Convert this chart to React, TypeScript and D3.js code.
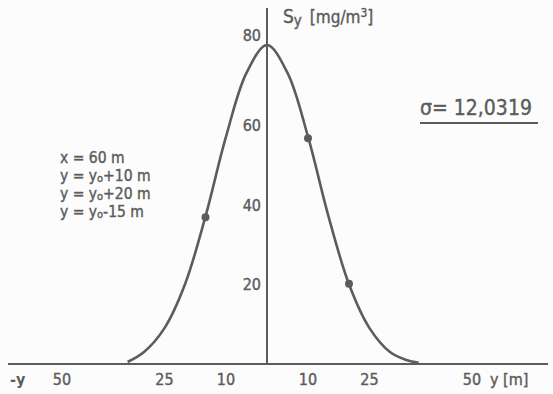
import React from 'react';
import * as d3 from 'd3';

// distance from plume axis (m) and concentration (mg/m3)
const curveY = [-34, -30, -25, -20, -15, -10, -5, 0, 5, 10, 15, 20, 25, 30, 34, 37];
const curveS = [0.5, 3, 9, 20, 37, 57, 73, 80, 73, 57, 37, 20, 9, 3, 1, 0.3];

// measured points
const pointY = [-15, 10, 20];
const pointS = [36.8, 56.6, 20.1];

const xTicks = [-50, -25, -10, 10, 25, 50];
const yTicks = [20, 40, 60, 80];

const legendLines = ['x = 60 m', 'y = y|o|+10 m', 'y = y|o|+20 m', 'y = y|o|-15 m'];
const sigmaLabel = 'σ= 12,0319';

const W = 553;
const H = 394;
const ink = '#5c5c5c';
const font = '"DejaVu Sans Condensed", "Liberation Sans Narrow", sans-serif';

const App = () => {
  const x = d3.scaleLinear().domain([0, 50]).range([267, 472]);
  const y = d3.scaleLinear().domain([0, 80]).range([364, 45]);

  const pts: [number, number][] = curveY.map((v, i) => [v, curveS[i]]);
  const line = d3.line<[number, number]>()
    .x(d => x(d[0]))
    .y(d => y(d[1]))
    .curve(d3.curveCatmullRom.alpha(0.5));

  const renderLegend = (s: string) => {
    const parts = s.split('|');
    if (parts.length === 1) return s;
    return (
      <>
        {parts[0]}
        <tspan fontSize={11} dy={1}>{parts[1]}</tspan>
        <tspan dy={-1}>{parts[2]}</tspan>
      </>
    );
  };

  const txt = { fill: ink, stroke: ink, strokeWidth: 0.4 };

  return (
    <svg width={W} height={H} style={{ position: 'absolute', left: 0, top: 0, background: '#fcfcfc' }}
      fontFamily={font}>
      {/* axes */}
      <line x1={8} x2={548} y1={y(0)} y2={y(0)} stroke={ink} strokeWidth={2} />
      <line x1={x(0)} x2={x(0)} y1={8} y2={y(0)} stroke={ink} strokeWidth={2} />

      {/* y ticks */}
      {yTicks.map(t => (
        <text key={t} x={x(0) - 6} y={y(t) + 6 - (t === 80 ? 10 : 0)} textAnchor="end"
          fontSize={16} {...txt}>{t}</text>
      ))}

      {/* x ticks */}
      {xTicks.map(t => (
        <text key={t} x={x(t)} y={y(0) + 21} textAnchor="middle" fontSize={16} {...txt}>
          {Math.abs(t)}
        </text>
      ))}
      <text x={10} y={y(0) + 21} fontSize={16} fontWeight="bold" fill={ink}>-y</text>
      <text x={490} y={y(0) + 21} fontSize={16} {...txt}>y [m]</text>

      {/* y title */}
      <text x={283} y={23} fontSize={19} {...txt}>
        S<tspan fontSize={15} dy={3}>y</tspan>
        <tspan dx={8} dy={-3} fontSize={17}>[mg/m</tspan>
        <tspan fontSize={12} dy={-6}>3</tspan>
        <tspan dy={6} fontSize={17}>]</tspan>
      </text>

      {/* sigma */}
      <text x={420} y={115} fontSize={21} {...txt}>{sigmaLabel}</text>
      <line x1={420} x2={538} y1={123} y2={123} stroke={ink} strokeWidth={2} />

      {/* legend */}
      {legendLines.map((s, i) => (
        <text key={i} x={60} y={163 + i * 18} fontSize={15.5} {...txt}>{renderLegend(s)}</text>
      ))}

      {/* curve */}
      <path d={line(pts) ?? ''} fill="none" stroke={ink} strokeWidth={2.6} />
      {pointY.map((v, i) => (
        <circle key={i} cx={x(v)} cy={y(pointS[i])} r={4} fill={ink} />
      ))}
    </svg>
  );
};

export default App;
